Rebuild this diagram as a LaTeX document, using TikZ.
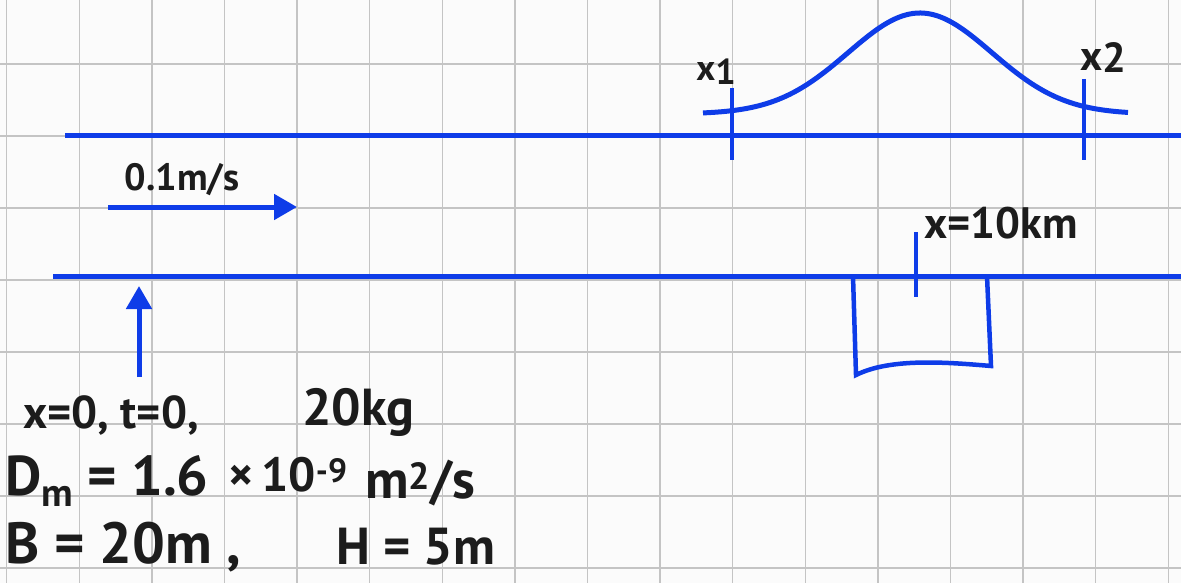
\documentclass[tikz,border=0pt]{standalone}
\usepackage{fontspec}
\setmainfont{PT Sans}
\usepackage{tikz}
\usetikzlibrary{arrows.meta}
\definecolor{cInk}{RGB}{14,60,232}
\definecolor{cPen}{RGB}{28,28,28}
\definecolor{cGrid}{RGB}{196,196,196}
\definecolor{cPaper}{RGB}{251,251,251}
\newcommand{\handsize}[1]{\fontsize{#1}{#1}\selectfont\bfseries}
\tikzset{
	gridline/.style={draw=cGrid, line width=1.4pt},
	wall/.style={draw=cInk, line width=5pt},
	tickmark/.style={draw=cInk, line width=4.5pt},
	flowarrow/.style={-{Triangle[length=23pt, width=25pt]}, draw=cInk, line width=5pt},
	% handwritten labels
	hand/.style={text=cPen, inner sep=0pt},
}

\begin{document}
\begin{tikzpicture}[x=1pt, y=-1pt]
	\fill[cPaper] (0,0) rectangle (1181,583);
	\useasboundingbox (0,0) rectangle (1181,583);
	% paper grid
	\foreach \gx in {0,...,16} {
		\draw[gridline] ({6.7+72.6*\gx},0) -- ({6.7+72.6*\gx},583);
	}
	\foreach \gy in {0,...,7} {
		\draw[gridline] (0,{64+72*\gy}) -- (1181,{64+72*\gy});
	}
	% channel walls
	\draw[wall] (65,136) -- (1181,136);
	\draw[wall] (53,276) -- (1181,276);
	\coordinate (flowA) at (108,207);
	\coordinate (flowB) at (297,207);
	\draw[flowarrow] (flowA) -- (flowB);
	\coordinate (injA) at (139,377);
	\coordinate (injB) at (139,286);
	\draw[flowarrow] (injA) -- (injB);
	% plume
	\draw[cInk, line width=5pt] plot[domain=703:1128, samples=80, smooth] (\x, {114-101*exp(-0.5*((\x-920)/72)^2)});
	\draw[tickmark] (732,88) -- (732,160);
	\draw[tickmark] (1084,79) -- (1084,160);
	% well
	\draw[wall, line width=4.5pt] (853,276) -- (856,375) .. controls (890,358) and (945,362) .. (991,366) -- (987,276);
	\draw[tickmark] (916,232) -- (916,297);
	\node[hand, font=\handsize{38}] (speed) at (182,180) {0.1m/s};
	\node[hand, font=\handsize{36}] (xa) at (716,72) {x\raisebox{-4pt}{1}};
	\node[hand, font=\handsize{42}] (xb) at (1103,58) {x\raisebox{-2pt}{2}};
	\node[hand, font=\handsize{44}] (xwell) at (1001,223) {x=10km};
	\node[hand, font=\handsize{46}, anchor=west] (origin) at (23,415) {x=0, t=0,};
	\node[hand, font=\handsize{52}] (mass) at (358,412) {20kg};
	\node[hand, font=\handsize{56}, anchor=west] (dm) at (5,481) {D\textsubscript{m} = 1.6};
	\node[hand, font=\handsize{48}, anchor=west] (pow) at (228,475) {×\,10\textsuperscript{-9}};
	\node[hand, font=\handsize{54}, anchor=west] (unit) at (365,483) {m\textsuperscript{2}/s};
	\node[hand, font=\handsize{58}, anchor=west] (width) at (5,547) {B = 20m ,};
	\node[hand, font=\handsize{52}, anchor=west] (depth) at (336,547) {H = 5m};
\end{tikzpicture}
\end{document}
